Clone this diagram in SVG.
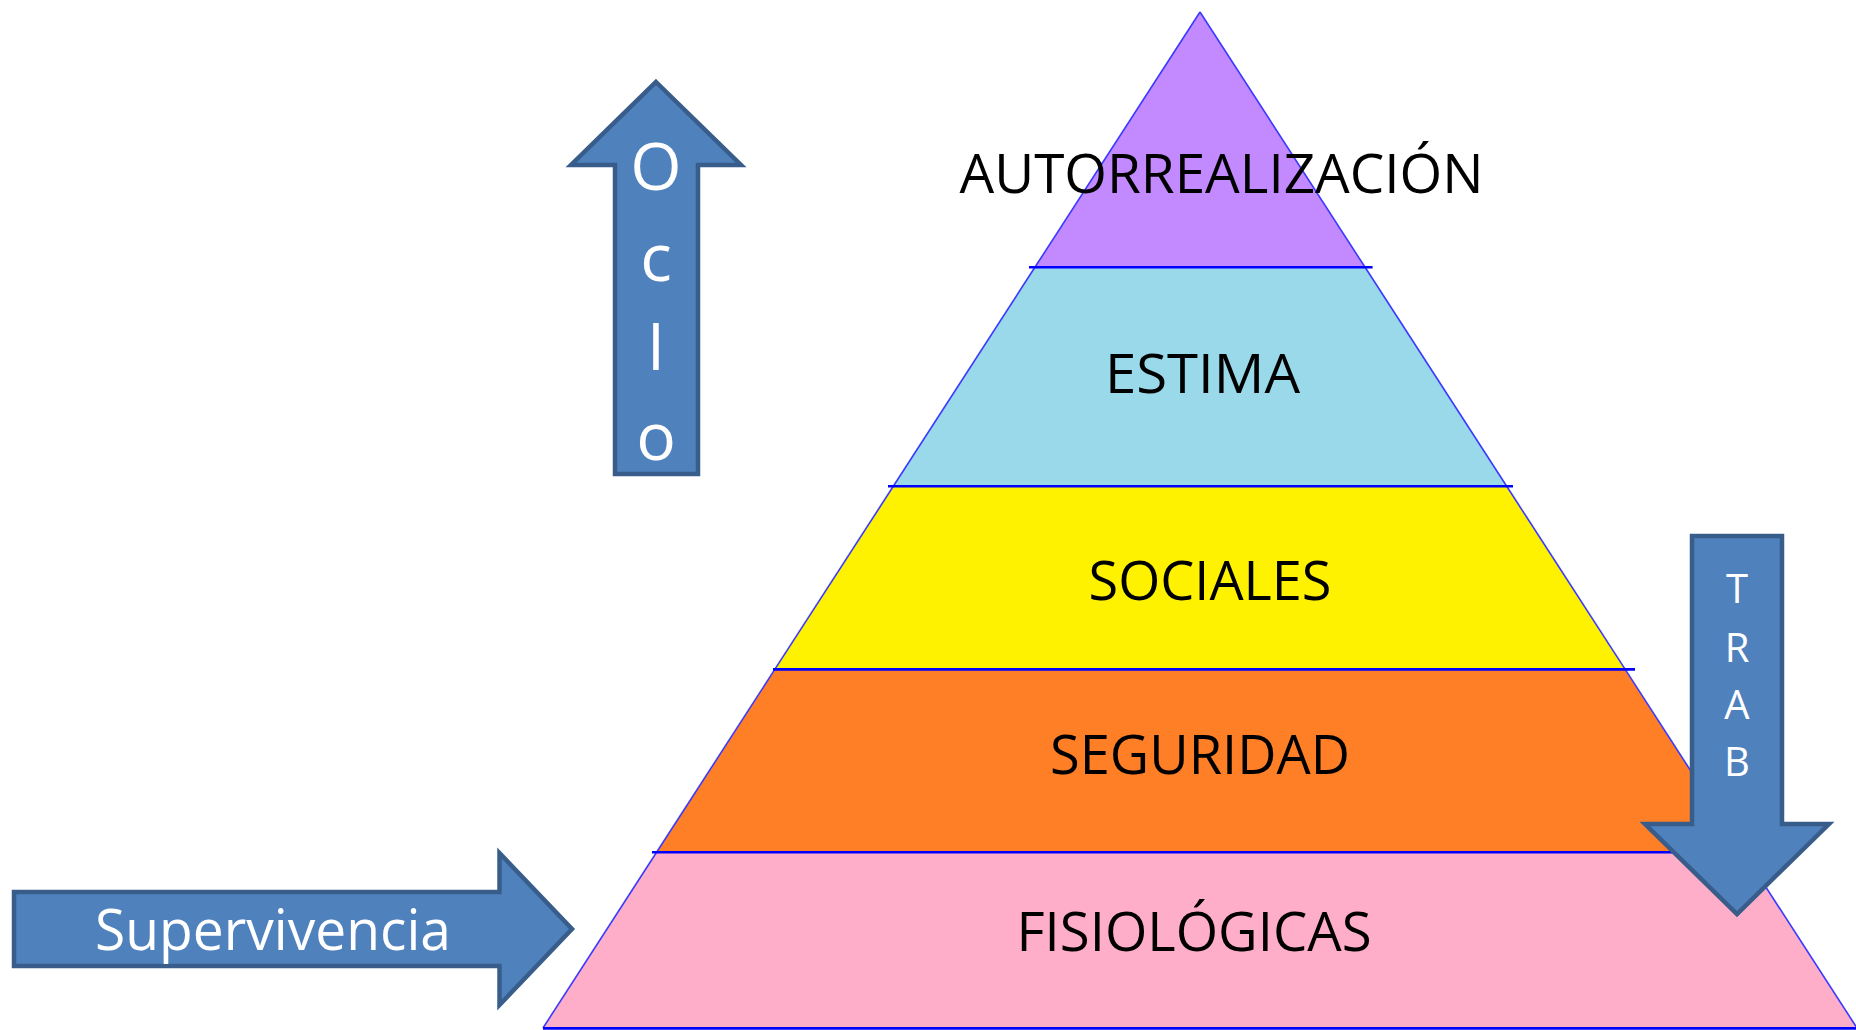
<svg xmlns="http://www.w3.org/2000/svg" width="1856" height="1030" viewBox="0 0 1856 1030">
<style>
.lbl{font-family:"Open Sans","Noto Sans","Liberation Sans",sans-serif;font-size:55px;fill:#000;text-anchor:middle}
.wlbl{font-family:"Open Sans","Noto Sans","Liberation Sans",sans-serif;fill:#fff;text-anchor:middle}
.side{stroke:#3a3aff;stroke-width:1.6;fill:none}
.div{stroke:#0000ff;stroke-width:2.6;fill:none}
.arrow{fill:#4f81bd;stroke:#385d8a;stroke-width:4.5;stroke-linejoin:miter}
</style>
<rect width="1856" height="1030" fill="#ffffff"/>
<g id="pyramid">
  <g id="autorrealizacion">
    <polygon points="1200,12 1365.1,267.3 1034.9,267.3" fill="#c389ff"/>
    <line class="side" x1="1200" y1="12" x2="1034.9" y2="267.3"/>
    <line class="side" x1="1200" y1="12" x2="1365.1" y2="267.3"/>
  </g>
  <g id="estima">
    <polygon points="1034.9,267.3 1365.1,267.3 1506.7,486.3 893.3,486.3" fill="#99d9ea"/>
    <line class="side" x1="1034.9" y1="267.3" x2="893.3" y2="486.3"/>
    <line class="side" x1="1365.1" y1="267.3" x2="1506.7" y2="486.3"/>
  </g>
  <g id="sociales">
    <polygon points="893.3,486.3 1506.7,486.3 1625.2,669.4 774.8,669.4" fill="#fff200"/>
    <line class="side" x1="893.3" y1="486.3" x2="774.8" y2="669.4"/>
    <line class="side" x1="1506.7" y1="486.3" x2="1625.2" y2="669.4"/>
  </g>
  <g id="seguridad">
    <polygon points="774.8,669.4 1625.2,669.4 1743.4,852.3 656.6,852.3" fill="#ff7f27"/>
    <line class="side" x1="774.8" y1="669.4" x2="656.6" y2="852.3"/>
    <line class="side" x1="1625.2" y1="669.4" x2="1743.4" y2="852.3"/>
  </g>
  <g id="fisiologicas">
    <polygon points="656.6,852.3 1743.4,852.3 1857,1028 543,1028" fill="#ffaec9"/>
    <line class="side" x1="656.6" y1="852.3" x2="543" y2="1028"/>
    <line class="side" x1="1743.4" y1="852.3" x2="1857" y2="1028"/>
  </g>
  <g id="dividers">
    <line class="div" x1="1029" y1="267.3" x2="1372.6" y2="267.3"/>
    <line class="div" x1="888" y1="486.3" x2="1513" y2="486.3"/>
    <line class="div" x1="773" y1="669.4" x2="1635" y2="669.4"/>
    <line class="div" x1="652" y1="852.3" x2="1750" y2="852.3"/>
    <line class="div" x1="543" y1="1028.4" x2="1856" y2="1028.4"/>
  </g>
  <g id="labels">
    <text class="lbl" x="1221.5" y="192.7" textLength="524" lengthAdjust="spacingAndGlyphs">AUTORREALIZACIÓN</text>
    <text class="lbl" x="1202.5" y="393.3" textLength="195" lengthAdjust="spacingAndGlyphs">ESTIMA</text>
    <text class="lbl" x="1210" y="600" textLength="243" lengthAdjust="spacingAndGlyphs">SOCIALES</text>
    <text class="lbl" x="1200" y="774" textLength="300" lengthAdjust="spacingAndGlyphs">SEGURIDAD</text>
    <text class="lbl" x="1194" y="950.7" textLength="355" lengthAdjust="spacingAndGlyphs">FISIOLÓGICAS</text>
  </g>
</g>
<g id="connectors"></g>
<g id="ocio-arrow">
  <path class="arrow" d="M656,82 L741,165 L698,165 L698,474 L615,474 L615,165 L571,165 Z"/>
  <text class="wlbl" x="656" y="190" font-size="66">O</text>
  <text class="wlbl" x="656" y="280.7" font-size="66">c</text>
  <text class="wlbl" x="656" y="370" font-size="66">I</text>
  <text class="wlbl" x="656" y="460" font-size="66">o</text>
</g>
<g id="supervivencia-arrow">
  <path class="arrow" d="M14,892 L499.5,892 L499.5,853 L572,929 L499.5,1005 L499.5,966 L14,966 Z"/>
  <text class="wlbl" x="273" y="950" font-size="56" textLength="356" lengthAdjust="spacingAndGlyphs">Supervivencia</text>
</g>
<g id="trab-arrow">
  <path class="arrow" d="M1692,536 L1782,536 L1782,824 L1829,824 L1737,914 L1645,824 L1692,824 Z"/>
  <text class="wlbl" x="1737" y="603" font-size="40">T</text>
  <text class="wlbl" x="1737" y="662" font-size="40">R</text>
  <text class="wlbl" x="1737" y="719" font-size="40">A</text>
  <text class="wlbl" x="1737" y="776" font-size="40">B</text>
</g>
</svg>
